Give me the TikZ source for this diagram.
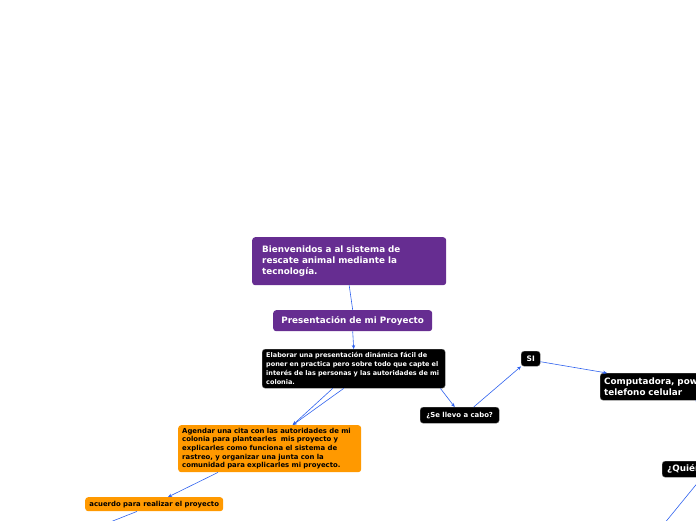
\documentclass[tikz,border=0pt]{standalone}
\usepackage{fontspec}
\setmainfont{DejaVu Sans}
\usetikzlibrary{arrows.meta,positioning}
\definecolor{morado}{HTML}{662D91}
\definecolor{naranja}{HTML}{FF9900}
\definecolor{azul}{HTML}{2F62EE}
\begin{document}
\begin{tikzpicture}[
    x=1pt,
    y=-1pt,
    caja/.style={anchor=north west, rounded corners=3pt, inner ysep=0pt, align=left, font=\bfseries},
    morada/.style={caja, fill=morado, text=white},
    negra/.style={caja, fill=black, draw=black!60, text=white},
    anaranjada/.style={caja, fill=naranja, text=black},
    enlace/.style={draw=azul, line width=0.6pt, -{Stealth[length=4pt,width=3.5pt]}},
    linea/.style={draw=azul, line width=0.6pt}
]
\useasboundingbox (0,0) rectangle (696,520);
\clip (0,0) rectangle (696,520);

% Nodos del mapa
\node[morada, minimum width=194, minimum height=48, inner xsep=10pt, text width=174,
      font=\bfseries\fontsize{8.8}{11}\selectfont] (titulo) at (252,237)
    {Bienvenidos a al sistema de\\rescate animal mediante la\\tecnología.};
\node[morada, minimum width=159, minimum height=21, align=center,
      font=\bfseries\fontsize{8.8}{11}\selectfont] (presentacion) at (273,310)
    {Presentación de mi Proyecto};
\node[negra, minimum width=183, minimum height=39, inner xsep=4pt, text width=175,
      font=\bfseries\fontsize{6.5}{9}\selectfont] (elaborar) at (262,349)
    {Elaborar una presentación dinámica fácil de\\poner en practica pero sobre todo que capte el\\interés de las personas y las autoridades de mi\\colonia.};
\node[anaranjada, minimum width=183, minimum height=47, inner xsep=4pt, text width=175,
      font=\bfseries\fontsize{6.9}{8.7}\selectfont] (agendar) at (178,425)
    {Agendar una cita con las autoridades de mi\\colonia para plantearles\ \ mis proyecto y\\explicarles como funciona el sistema de\\rastreo, y organizar una junta con la\\comunidad para explicarles mi proyecto.};
\node[anaranjada, minimum width=138, minimum height=14, align=center,
      font=\bfseries\fontsize{6.9}{8.7}\selectfont] (acuerdo) at (85,497)
    {acuerdo para realizar el proyecto};
\node[negra, minimum width=79, minimum height=16, align=center,
      font=\bfseries\fontsize{6.9}{8.7}\selectfont] (sellevo) at (420,407)
    {¿Se llevo a cabo?};
\node[negra, minimum width=19, minimum height=15, inner xsep=0pt, align=center,
      font=\bfseries\fontsize{7.5}{9}\selectfont] (si) at (521,351) {SI};
\node[negra, minimum width=140, minimum height=27, inner xsep=4pt, text width=132,
      font=\bfseries\fontsize{8.8}{10.5}\selectfont] (computadora) at (600,373)
    {Computadora, pow\\telefono celular};
\node[negra, minimum width=60, minimum height=16, inner xsep=5pt, text width=50,
      font=\bfseries\fontsize{8.8}{10.5}\selectfont] (quien) at (662,461) {¿Quién};

% Puntos fuera del cuadro
\coordinate (fueraA) at (659,530);
\coordinate (fueraB) at (90,530);
\coordinate (fueraC) at (704,440);

% Conectores
\draw[linea] (titulo.south) -- (presentacion.north);
\draw[enlace] (presentacion.south) -- (elaborar.north);
\draw[enlace] ([xshift=-21pt]elaborar.south) -- ([xshift=23pt]agendar.north);
\draw[enlace] ([xshift=-10pt]elaborar.south) -- ([xshift=23pt]agendar.north);
\draw[enlace] ([xshift=-5pt]elaborar.south east) -- ([xshift=-5pt]sellevo.north);
\draw[enlace] ([xshift=14pt]sellevo.north) -- (si.south west);
\draw[enlace] ([yshift=-3pt]si.east) -- ([xshift=7pt]computadora.north west);
\draw[linea] ([xshift=96pt]computadora.south west) -- (fueraC);
\draw[linea] ([xshift=40pt]quien.south west) -- (fueraA);
\draw[enlace] ([xshift=40pt]agendar.south west) -- ([xshift=83pt]acuerdo.north west);
\draw[linea] ([xshift=52pt]acuerdo.south west) -- (fueraB);

\end{tikzpicture}
\end{document}
